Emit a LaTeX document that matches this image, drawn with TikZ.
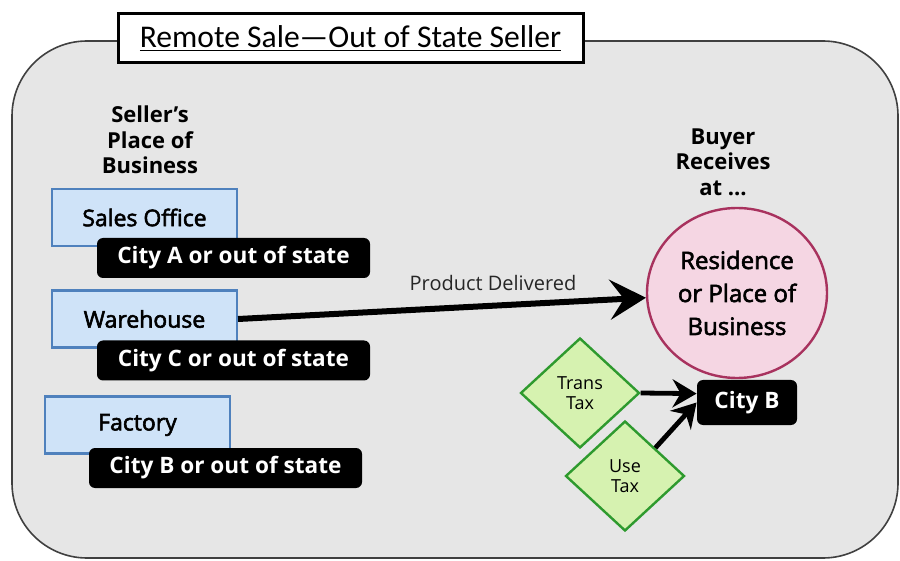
\documentclass[tikz,border=0pt]{standalone}
\usepackage{fontspec}
\setmainfont{Open Sans}
\newfontfamily\medfont{Open Sans}[FakeBold=2.5]
\newfontfamily\titlefont{Carlito}
\usetikzlibrary{shapes.geometric,arrows.meta}
\definecolor{panel}{HTML}{E6E6E6}
\definecolor{panelline}{HTML}{404040}
\definecolor{placefill}{HTML}{CFE3F8}
\definecolor{placeline}{HTML}{4F81BD}
\definecolor{resfill}{HTML}{F5D6E3}
\definecolor{resline}{HTML}{A8325E}
\definecolor{taxfill}{HTML}{D6F2B0}
\definecolor{taxline}{HTML}{2E9A2E}
\begin{document}
\begin{tikzpicture}[x=0.5pt,y=-0.5pt,
  place/.style={draw=placeline, fill=placefill, line width=1.1pt, minimum width=92.5pt, minimum height=28.5pt, inner sep=0pt, font=\medfont\fontsize{11.5}{13}\selectfont},
  city/.style={fill=black, text=white, rounded corners=3pt, minimum width=136.5pt, minimum height=20pt, inner sep=0pt, font=\bfseries\fontsize{11.3}{13}\selectfont},
  heading/.style={align=center, font=\bfseries\fontsize{11}{12.75}\selectfont, inner sep=0pt},
  tax/.style={shape=diamond, draw=taxline, fill=taxfill, line width=1.2pt, minimum width=59.5pt, minimum height=55pt, inner sep=0pt, align=center, font=\fontsize{9}{10}\selectfont},
  bigarrow/.style={line width=3pt, -{Stealth[length=18pt, width=20pt, inset=7pt]}},
  smallarrow/.style={line width=2.4pt, -{Stealth[length=12pt, width=14pt, inset=4pt]}}
]
\useasboundingbox (0,0) rectangle (900,561);
% panel
\draw[fill=panel, draw=panelline, line width=0.8pt, rounded corners=37.5pt] (12,41) rectangle (898,558);
% title
\node[draw=black, fill=white, line width=1.5pt, minimum width=232.5pt, minimum height=24.5pt, inner sep=0pt, font=\titlefont\fontsize{15.8}{17}\selectfont] (title) at (350.5,38.5) {\underline{Remote Sale—Out of State Seller}};
% headings
\node[heading] (seller) at (150,140) {Seller’s\\Place of\\Business};
\node[heading] (buyer) at (723,162) {Buyer\\Receives\\at ...};
% places
\node[place] (so) at (144.5,217.5) {Sales Office};
\node[city] (ca) at (233.5,258) {City A or out of state};
\node[place] (wh) at (144.5,319) {Warehouse};
\node[city] (cc) at (233.5,360.5) {City C or out of state};
\node[place] (fa) at (137.5,425) {Factory};
\node[city] (cbl) at (225.5,468) {City B or out of state};
% residence
\node[ellipse, draw=resline, fill=resfill, line width=1.2pt, minimum width=90pt, minimum height=85pt, inner sep=0pt, align=center, font=\medfont\fontsize{12}{16.5}\selectfont] (res) at (737,293) {Residence\\or Place of\\Business};
\node[city, minimum width=50pt, minimum height=22.5pt] (cb) at (747,402.5) {City B};
% taxes
\node[tax] (tt) at (580,393) {Trans\\Tax};
\node[tax] (ut) at (625,476) {Use\\Tax};
% arrows
\draw[bigarrow] (wh.east) -- (res);
\node[font=\fontsize{10}{12}\selectfont, text=black!85, inner sep=0pt] (pd) at (493,283) {Product Delivered};
\draw[smallarrow] (tt.east) -- (cb.170);
\draw[smallarrow] (ut.north east) -- (cb.west);
\end{tikzpicture}
\end{document}
